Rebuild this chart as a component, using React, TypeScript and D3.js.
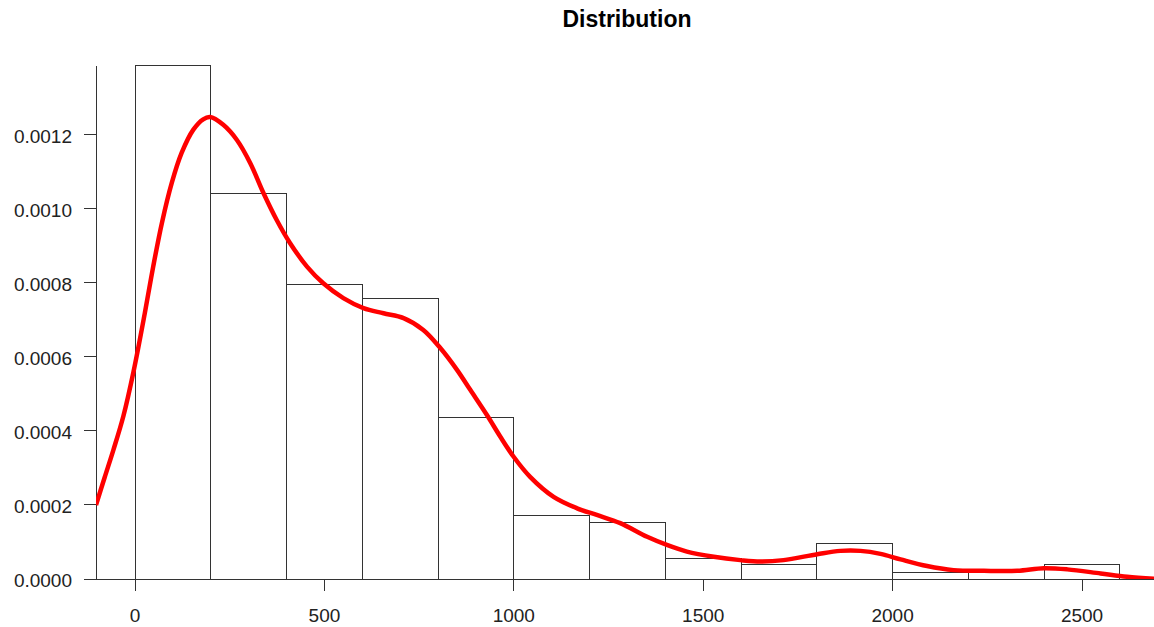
import React from 'react';
import * as d3 from 'd3';

// histogram bins (width 200) and their densities
const binStarts = [0, 200, 400, 600, 800, 1000, 1200, 1400, 1600, 1800, 2000, 2200, 2400];
const binDensity = [
  0.001387, 0.001042, 0.000797, 0.000759, 0.000437, 0.000172, 0.000152, 0.0000559, 0.0000397,
  0.0000965, 0.0000189, 0, 0.0000397,
];
const binWidth = 200;

// kernel density estimate
const kdeX = [
  -103, -80, -57, -31, -4, 26, 48, 71, 97, 123, 154, 180, 198, 233, 269, 304, 339, 374, 409, 454, 497,
  550, 603, 656, 709, 761, 806, 850, 885, 929, 964, 999, 1043, 1105, 1167, 1219, 1281, 1352, 1404,
  1457, 1528, 1598, 1651, 1712, 1801, 1862, 1915, 1968, 2021, 2091, 2161, 2241, 2329, 2399, 2461,
  2549, 2619, 2700,
];
const kdeY = [
  0.0002, 0.000275, 0.000349, 0.000439, 0.00056, 0.000719, 0.000844, 0.000962, 0.00107, 0.001151,
  0.001214, 0.001242, 0.001248, 0.001227, 0.001186, 0.001124, 0.001043, 0.00097, 0.000908, 0.000844,
  0.000799, 0.000759, 0.000732, 0.000718, 0.000705, 0.000673, 0.000624, 0.000565, 0.000511,
  0.000443, 0.000385, 0.000331, 0.000276, 0.000222, 0.000191, 0.000173, 0.000151, 0.000114,
  0.000092, 0.000074, 0.00006, 0.000051, 0.000047, 0.000051, 0.000067, 0.000076, 0.000076, 0.000068,
  0.000053, 0.000035, 0.000024, 0.000022, 0.000022, 0.000029, 0.000026, 0.000015, 0.000006, 0.0,
];

const xTicks = [0, 500, 1000, 1500, 2000, 2500];
const yTicks = [0, 0.0002, 0.0004, 0.0006, 0.0008, 0.001, 0.0012];

const W = 1154;
const H = 627;
const font = '"Liberation Sans", Arial, sans-serif';

const App = () => {
  const x = d3.scaleLinear().domain([-103, 2690]).range([96, 1154]);
  const y = d3.scaleLinear().domain([0, 0.001386]).range([579, 66]);

  const line = d3
    .line<number>()
    .x((_, i) => x(kdeX[i]))
    .y(d => y(d))
    .curve(d3.curveCatmullRom.alpha(0.5));

  const axisColor = '#333';

  return (
    <svg
      width={W}
      height={H}
      style={{ position: 'fixed', left: 0, top: 0, background: '#fff' }}
      fontFamily={font}
    >
      <defs>
        <clipPath id="plot">
          <rect x={96} y={0} width={W - 96} height={579} />
        </clipPath>
      </defs>

      <text x={627} y={27} textAnchor="middle" fontSize={23} fontWeight="bold" fill="#000">
        Distribution
      </text>

      {/* bars */}
      <g shapeRendering="crispEdges">
        {binStarts.map((b, i) => (
          <rect
            key={b}
            x={x(b)}
            y={y(binDensity[i])}
            width={x(b + binWidth) - x(b)}
            height={y(0) - y(binDensity[i])}
            fill="none"
            stroke={axisColor}
            strokeWidth={1}
          />
        ))}
      </g>

      {/* axes */}
      <g shapeRendering="crispEdges" stroke={axisColor} strokeWidth={1}>
        <line x1={96} x2={96} y1={66} y2={579} />
        <line x1={96} x2={W} y1={579} y2={579} />
        {yTicks.map(t => (
          <line key={t} x1={84} x2={96} y1={y(t)} y2={y(t)} />
        ))}
        {xTicks.map(t => (
          <line key={t} x1={x(t)} x2={x(t)} y1={579} y2={591} />
        ))}
      </g>

      <g fontSize={19} fill="#222">
        {yTicks.map(t => (
          <text key={t} x={72} y={y(t) + 8} textAnchor="end">
            {d3.format('.4f')(t)}
          </text>
        ))}
        {xTicks.map(t => (
          <text key={t} x={x(t)} y={622} textAnchor="middle">
            {t}
          </text>
        ))}
      </g>

      {/* density curve */}
      <path
        d={line(kdeY) || ''}
        fill="none"
        stroke="#f00"
        strokeWidth={4.5}
        strokeLinejoin="round"
        clipPath="url(#plot)"
      />
    </svg>
  );
};

export default App;
